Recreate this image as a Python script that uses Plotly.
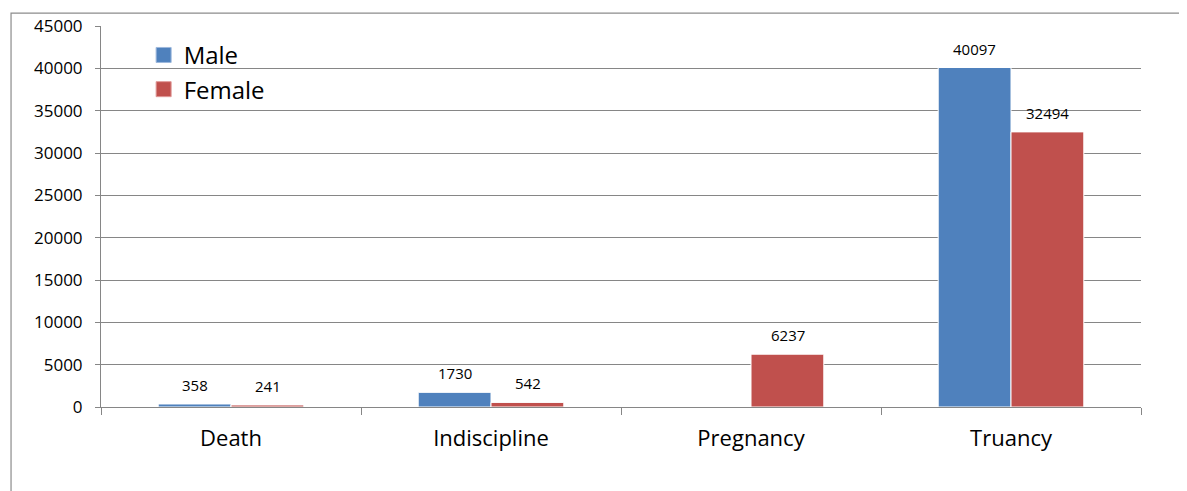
import plotly.graph_objects as go

# categories and values
categories = ["Death", "Indiscipline", "Pregnancy", "Truancy"]
male = [358, 1730, 0, 40097]
female = [241, 542, 6237, 32494]
y_ticks = [0, 5000, 10000, 15000, 20000, 25000, 30000, 35000, 40000, 45000]

BLUE = "#4F81BD"
RED = "#C0504D"
GRID = "#868686"
FONT = "Open Sans"

fig = go.Figure()
fig.add_trace(go.Bar(x=categories, y=male, name="Male", showlegend=False,
                     marker=dict(color=BLUE, line=dict(color="white", width=1))))
fig.add_trace(go.Bar(x=categories, y=female, name="Female", showlegend=False,
                     marker=dict(color=RED, line=dict(color="white", width=1))))

# legend entries with the larger square swatches of the original
for name, col, edge in (("Male", BLUE, "#9db7dc"), ("Female", RED, "#e09a98")):
    fig.add_trace(go.Scatter(x=[None], y=[None], mode="markers", name=name,
                             marker=dict(symbol="square", size=15, color=col,
                                         line=dict(color=edge, width=1))))

# value labels above the bars (zero bars get none)
for vals, shift in ((male, -36.5), (female, 36.5)):
    for cat, v in zip(categories, vals):
        if v == 0:
            continue
        fig.add_annotation(x=cat, y=v, text=str(v), showarrow=False,
                           xshift=shift, yshift=7, yanchor="bottom",
                           font=dict(family=FONT, size=15, color="black"))

# outer chart frame (runs off the right/bottom of the picture)
fig.add_shape(type="rect", xref="paper", yref="paper",
              x0=-0.0865, x1=1.2, y0=-0.5, y1=1.034,
              line=dict(color="#8c8c8c", width=1.2), fillcolor="rgba(0,0,0,0)")

# page body adds an 8px offset, so margins are 8px smaller than the picture
fig.update_layout(
    width=1179, height=483,
    margin=dict(l=93, r=46, t=18, b=84, autoexpand=False),
    paper_bgcolor="white", plot_bgcolor="white",
    barmode="group", bargap=0.44, bargroupgap=0,
    font=dict(family=FONT, color="black"),
    showlegend=True,
    legend=dict(x=0.041, y=0.982, xanchor="left", yanchor="top",
                font=dict(family=FONT, size=24), bgcolor="rgba(0,0,0,0)",
                itemsizing="trace", tracegroupgap=0),
    xaxis=dict(showline=True, linecolor=GRID, linewidth=1, automargin=False,
               ticks="outside", ticklen=7, tickcolor=GRID, tickson="boundaries",
               tickfont=dict(family=FONT, size=22), ticklabelstandoff=12,
               showgrid=False),
    yaxis=dict(range=[0, 45000], tickvals=y_ticks, ticktext=[str(t) for t in y_ticks],
               showline=True, linecolor=GRID, automargin=False,
               linewidth=1, ticks="outside", ticklen=5, tickcolor=GRID,
               showgrid=True, gridcolor=GRID, gridwidth=1, zeroline=False,
               tickfont=dict(family=FONT, size=17), ticklabelstandoff=9),
)

fig.write_html("out.html")
